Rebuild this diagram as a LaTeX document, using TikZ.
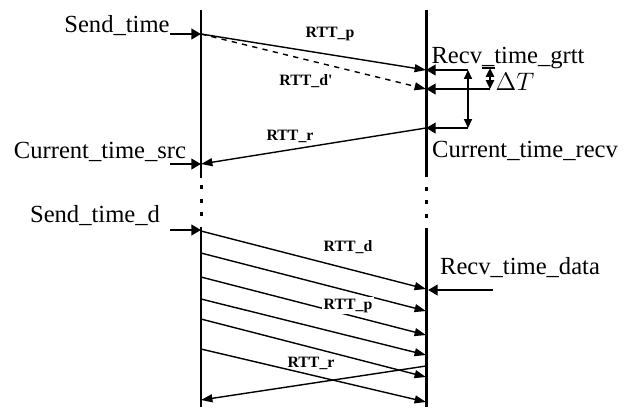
\documentclass[tikz,border=0pt]{standalone}
\usepackage{fontspec}
\setmainfont{Liberation Serif}
\usetikzlibrary{arrows.meta, positioning, calc}

\begin{document}
\begin{tikzpicture}[
  x=0.02cm, y=-0.02cm,
  every node/.style={font=\fontsize{14}{16}\selectfont, inner sep=0pt, anchor=base},
  rtt/.style={font=\fontsize{9}{10}\selectfont\bfseries},
  timeline/.style={line width=1.7pt},
  msg/.style={line width=0.8pt, -{Triangle[length=6.5pt, width=4.5pt]}},
  thickarrow/.style={line width=1.6pt, -{Triangle[length=5.5pt, width=6pt]}},
  gap/.style={line width=0.8pt, {Triangle[length=5pt, width=4.5pt]}-{Triangle[length=5pt, width=4.5pt]}}
]
  \useasboundingbox (0,0) rectangle (634,407);

  % timelines
  \coordinate (srcTop) at (201,10);  \coordinate (srcMid) at (201,178);
  \coordinate (srcLow) at (201,227); \coordinate (srcBot) at (201,407);
  \coordinate (dstTop) at (426,10);  \coordinate (dstMid) at (426,177);
  \coordinate (dstLow) at (426,228); \coordinate (dstBot) at (426,407);
  \draw[timeline] (srcTop) -- (srcMid);
  \draw[timeline] (srcLow) -- (srcBot);
  \draw[timeline] (dstTop) -- (dstMid);
  \draw[timeline] (dstLow) -- (dstBot);
  \foreach \yy in {187,201,214} {
    \fill (199.5,\yy-2) rectangle (202.5,\yy+2);
  }
  \foreach \yy in {189,202,216} {
    \fill (424.5,\yy-2) rectangle (427.5,\yy+2);
  }

  % probe exchange
  \coordinate (sendT) at (201,34);
  \coordinate (grttP) at (426,70);
  \coordinate (grttD) at (426,89);
  \coordinate (curR) at (426,128);
  \coordinate (curS) at (201,164);
  \draw[msg] (sendT) -- (grttP);
  \draw[msg, dashed] (sendT) -- (grttD);
  \draw[msg] (curR) -- (curS);
  \node[rtt] (rttP) at (330,37) {RTT\_p};
  \node[rtt] (rttDd) at (306,85) {RTT\_d\textquotesingle};
  \node[rtt] (rttR) at (290,140) {RTT\_r};

  % time marks on the receiver side
  \coordinate (grttPend) at (468,70);
  \coordinate (grttDend) at (490,89);
  \coordinate (curRend) at (468,128);
  \draw[thickarrow] (grttPend) -- (grttP);
  \draw[thickarrow] (grttDend) -- (grttD);
  \draw[thickarrow] (curRend) -- (curR);
  \draw[gap] (grttPend) -- (curRend);
  \coordinate (dtTop) at (490,68);
  \draw[gap, line width=1.4pt] (dtTop) -- (grttDend);
  \draw[line width=0.6pt] (482,68) -- (495,68);

  \node (lblSend) at (117,32) {Send\_time};
  \node (lblCurSrc) at (100,158) {Current\_time\_src};
  \node (lblGrtt) at (508,63) {Recv\_time\_grtt};
  \node (lblDelta) at (515,90) {$\Delta T$};
  \node (lblCurRecv) at (525,157) {Current\_time\_recv};

  \coordinate (sendTin) at (170,34);
  \coordinate (curSin) at (170,164);
  \draw[thickarrow] (sendTin) -- (sendT);
  \draw[thickarrow] (curSin) -- (curS);

  % data phase
  \coordinate (sendD) at (201,230);
  \coordinate (sendDin) at (170,230);
  \draw[thickarrow] (sendDin) -- (sendD);
  \node (lblSendD) at (95,222) {Send\_time\_d};
  \foreach \i/\ys/\ye in {1/231/289, 2/253/311, 3/277/335, 4/299/355, 5/319/377, 6/349/402} {
    \coordinate (ds\i) at (201,\ys);
    \coordinate (de\i) at (426,\ye);
    \draw[msg] (ds\i) -- (de\i);
  }
  \coordinate (retR) at (426,366);
  \coordinate (retS) at (201,400);
  \draw[msg] (retR) -- (retS);
  \node[rtt] (rttD) at (348,251) {RTT\_d};
  \node[rtt, fill=white, inner sep=1pt] (rttP2) at (348,309) {RTT\_p};
  \node[rtt] (rttR2) at (311,367) {RTT\_r};

  \coordinate (dataIn) at (493,290);
  \coordinate (dataT) at (428,290);
  \draw[thickarrow] (dataIn) -- (dataT);
  \node (lblData) at (520,274) {Recv\_time\_data};
\end{tikzpicture}
\end{document}
